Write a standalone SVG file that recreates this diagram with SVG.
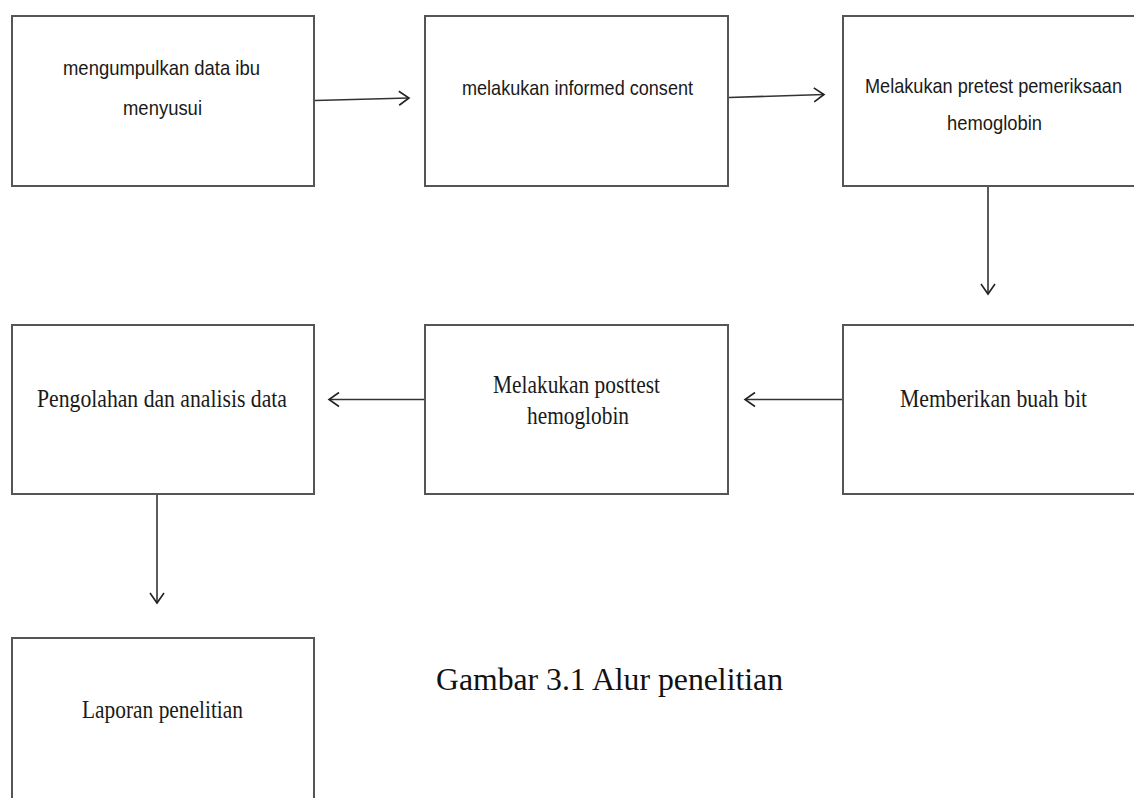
<svg xmlns="http://www.w3.org/2000/svg" width="1134" height="798" viewBox="0 0 1134 798">
  <style>
    .box { fill: #ffffff; stroke: #555555; stroke-width: 2; }
    .sans { font-family: "Liberation Sans", Arial, sans-serif; font-size: 21px; fill: #1a1a1a; }
    .serif { font-family: "Liberation Serif", "Times New Roman", serif; font-size: 25px; fill: #1a1a1a; }
    .cap { font-family: "Liberation Serif", "Times New Roman", serif; font-size: 31px; fill: #111111; }
    .conn { stroke: #333333; stroke-width: 1.6; fill: none; marker-end: url(#arr); }
  </style>
  <defs>
    <marker id="arr" markerWidth="14" markerHeight="18" refX="12" refY="9" orient="auto" markerUnits="userSpaceOnUse">
      <path d="M2,2 L12,9 L2,16" fill="none" stroke="#222222" stroke-width="1.6"/>
    </marker>
  </defs>
  <rect width="1134" height="798" fill="#ffffff"/>

  <g id="node-1">
    <rect class="box" x="12" y="16" width="302" height="170"/>
    <text class="sans" x="63" y="75" textLength="197" lengthAdjust="spacingAndGlyphs">mengumpulkan data ibu</text>
    <text class="sans" x="123" y="115" textLength="79" lengthAdjust="spacingAndGlyphs">menyusui</text>
  </g>
  <g id="node-2">
    <rect class="box" x="425" y="16" width="303" height="170"/>
    <text class="sans" x="462" y="95" textLength="231" lengthAdjust="spacingAndGlyphs">melakukan informed consent</text>
  </g>
  <g id="node-3">
    <rect class="box" x="843" y="16" width="300" height="170"/>
    <text class="sans" x="865" y="93" textLength="257" lengthAdjust="spacingAndGlyphs">Melakukan pretest pemeriksaan</text>
    <text class="sans" x="947" y="130" textLength="95" lengthAdjust="spacingAndGlyphs">hemoglobin</text>
  </g>
  <g id="node-4">
    <rect class="box" x="12" y="325" width="302" height="169"/>
    <text class="serif" x="37" y="407" textLength="250" lengthAdjust="spacingAndGlyphs">Pengolahan dan analisis data</text>
  </g>
  <g id="node-5">
    <rect class="box" x="425" y="325" width="303" height="169"/>
    <text class="serif" x="493" y="393" textLength="167" lengthAdjust="spacingAndGlyphs">Melakukan posttest</text>
    <text class="serif" x="527" y="424" textLength="102" lengthAdjust="spacingAndGlyphs">hemoglobin</text>
  </g>
  <g id="node-6">
    <rect class="box" x="843" y="325" width="300" height="169"/>
    <text class="serif" x="900" y="407" textLength="187" lengthAdjust="spacingAndGlyphs">Memberikan buah bit</text>
  </g>
  <g id="node-7">
    <rect class="box" x="12" y="638" width="302" height="170"/>
    <text class="serif" x="82" y="718" textLength="161" lengthAdjust="spacingAndGlyphs">Laporan penelitian</text>
  </g>

  <g id="connectors">
    <line class="conn" x1="315" y1="100.5" x2="409" y2="98"/>
    <line class="conn" x1="729" y1="97.5" x2="824" y2="94.5"/>
    <line class="conn" x1="988" y1="187" x2="988" y2="294"/>
    <line class="conn" x1="842" y1="399.5" x2="745" y2="399.5"/>
    <line class="conn" x1="424" y1="399.5" x2="329" y2="399.5"/>
    <line class="conn" x1="157" y1="495" x2="157" y2="603"/>
  </g>

  <text class="cap" x="436" y="690" textLength="347" lengthAdjust="spacingAndGlyphs">Gambar 3.1 Alur penelitian</text>
</svg>
